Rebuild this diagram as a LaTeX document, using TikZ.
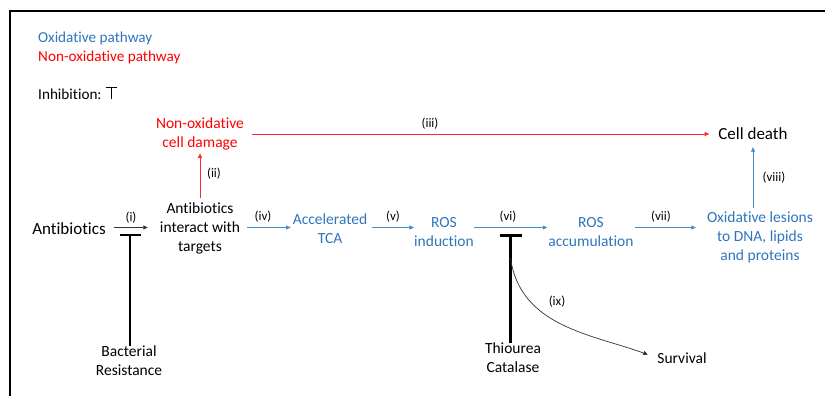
\documentclass[tikz,border=0pt]{standalone}
\usepackage{fontspec}
\setmainfont{Carlito}[Ligatures={NoCommon}]
\usetikzlibrary{arrows.meta,calc}
\definecolor{oxblue}{RGB}{46,117,190}
\definecolor{arblue}{RGB}{70,140,205}
\definecolor{nored}{RGB}{255,0,0}
\begin{document}
\begin{tikzpicture}[x=1pt,y=-1pt,
  txt/.style={font=\fontsize{15.5}{19}\selectfont, align=center, inner sep=0pt},
  big/.style={font=\fontsize{17}{20}\selectfont, inner sep=0pt},
  lbl/.style={font=\fontsize{13}{15}\selectfont, inner sep=0pt},
  legend/.style={font=\fontsize{15.2}{18}\selectfont, inner sep=0pt, anchor=west},
  arr/.style={-{Triangle[length=4.5pt,width=4pt]}, line width=0.8pt},
  barr/.style={arr, draw=arblue},
  rarr/.style={arr, draw=nored!85},
  karr/.style={arr, draw=black!80},
  inhib/.style={line width=2.2pt, draw=black}]
\useasboundingbox (0,0) rectangle (825,396);
% frame
\draw[line width=2pt] (9.5,397) -- (9.5,11) -- (826,11);
% legend
\node[legend, text=oxblue] (lg1) at (38,38) {Oxidative pathway};
\node[legend, text=nored] (lg2) at (38,57) {Non-oxidative pathway};
\node[legend] (lg3) at (38,94) {Inhibition:};
\draw[line width=0.9pt] (105.5,87.5) -- (116.5,87.5) (111,87.5) -- (111,99);
% nodes
\node[big] (anti) at (69,229) {Antibiotics};
\node[txt] (inter) at (200,228) {Antibiotics\\interact with\\targets};
\node[txt, text=nored] (nocd) at (200,134) {Non-oxidative\\cell damage};
\node[big] (death) at (753,134) {Cell death};
\node[txt, text=oxblue] (tca) at (330,229) {Accelerated\\TCA};
\node[txt, text=oxblue] (rosi) at (444,232) {ROS\\induction};
\node[txt, text=oxblue] (rosa) at (591,232) {ROS\\accumulation};
\node[txt, text=oxblue] (les) at (760,237) {Oxidative lesions\\to DNA, lipids\\and proteins};
\node[txt] (res) at (129,361) {Bacterial\\Resistance};
\node[txt] (thio) at (513,358) {Thiourea\\Catalase};
\node[txt] (surv) at (682,358) {Survival};
% row coordinate
\coordinate (row) at (0,227.5);
% (i)
\draw[karr, shorten <=8pt, shorten >=12pt] (anti.east |- row) -- (inter.west |- row);
\node[lbl] (li) at (131,218) {(i)};
\coordinate (bi) at (130,235);
\draw[inhib] (119.5,235) -- (140.5,235);
\draw[inhib] (bi) -- (res.north -| bi);
% (ii)
\draw[rarr, shorten <=4pt, shorten >=3pt] (inter.north) -- (nocd.south);
\node[lbl] (lii) at (214,174) {(ii)};
% (iii)
\draw[rarr, shorten <=8pt, shorten >=9pt] (nocd.east |- death) -- (death.west);
\node[lbl] (liii) at (430,124) {(iii)};
% (iv)
\draw[barr, shorten <=7pt, shorten >=2pt] (inter.east |- row) -- (tca.west |- row);
\node[lbl] (liv) at (263,217) {(iv)};
% (v)
\draw[barr, shorten <=5pt, shorten >=0pt] (tca.east |- row) -- (rosi.west |- row);
\node[lbl] (lv) at (393,217) {(v)};
% (vi)
\draw[barr, shorten <=0pt, shorten >=1pt] (rosi.east |- row) -- (rosa.west |- row);
\node[lbl] (lvi) at (508,217) {(vi)};
\coordinate (bvi) at (510.5,235.5);
\draw[inhib] (499.5,235.5) -- (521.5,235.5);
\draw[inhib] (bvi) -- (thio.north -| bvi);
% (ix)
\coordinate (ixs) at (510.5,258);
\draw[karr, line width=0.7pt, shorten >=10pt] (ixs) to[out=-82,in=160] (surv.west);
\node[lbl] (lix) at (557,302) {(ix)};
% (vii)
\draw[barr, shorten <=1pt, shorten >=11pt] (rosa.east |- row) -- (les.west |- row);
\node[lbl] (lvii) at (661,217) {(vii)};
% (viii)
\draw[barr, shorten <=3pt, shorten >=7pt] (les.north -| death) -- (death.south);
\node[lbl] (lviii) at (774,178) {(viii)};
\end{tikzpicture}
\end{document}
